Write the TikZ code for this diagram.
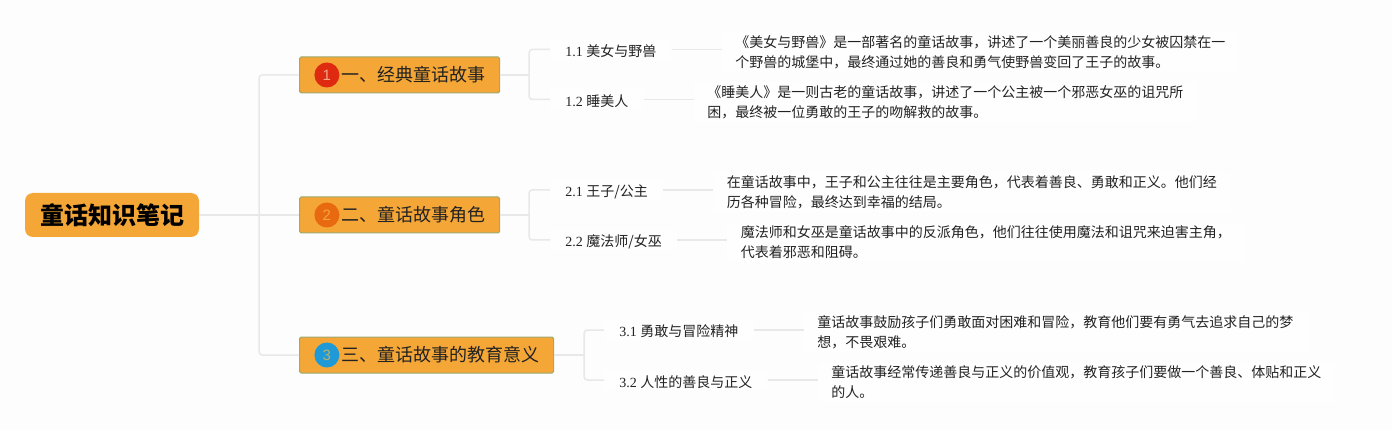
\documentclass[tikz,border=0pt]{standalone}
\usepackage{fontspec}
\setmainfont{Liberation Serif}
\newfontfamily\cjk{Noto Sans CJK SC}
\newfontfamily\digitfont{Liberation Sans}
\usepackage{xcolor}
\usetikzlibrary{positioning}
\definecolor{pagebg}{HTML}{FDFDFD}
\definecolor{paperwhite}{HTML}{FEFEFE}
\definecolor{boxfill}{HTML}{F4A637}
\definecolor{boxline}{HTML}{9DAA70}
\definecolor{linkgray}{HTML}{E8E8E8}
\definecolor{inkblack}{HTML}{222222}
\definecolor{badgeone}{HTML}{DD2A10}
\definecolor{digitone}{HTML}{F2A58A}
\definecolor{badgetwo}{HTML}{E8690F}
\definecolor{digittwo}{HTML}{F4A637}
\definecolor{badgethree}{HTML}{1F9AD6}
\definecolor{digitthree}{HTML}{B8B070}

\begin{document}
\begin{tikzpicture}[
                  x=1pt, y=1pt,
                  root/.style={fill=boxfill, rounded corners=8pt, minimum width=174pt, minimum height=44pt,
                              font=\fontsize{24}{28}\selectfont\cjk\bfseries, inner sep=0pt},
                  section/.style={draw=boxline, line width=1pt, fill=boxfill, rounded corners=1.5pt,
                              minimum height=36pt, inner ysep=0pt, inner xsep=14pt, text=inkblack,
                              font=\fontsize{18}{22}\selectfont\cjk},
                  badge/.style={circle, minimum size=25pt, inner sep=0pt,
                              font=\fontsize{15}{18}\selectfont\digitfont},
                  topic/.style={fill=paperwhite, inner xsep=15pt, inner ysep=3pt, text=inkblack,
                              text height=14pt, text depth=0pt,
                              font=\fontsize{14}{20}\selectfont},
                  note/.style={fill=paperwhite, inner xsep=13.5pt, inner ysep=3pt, align=left, text=inkblack,
                              font=\fontsize{14}{20}\selectfont\cjk},
                  link/.style={draw=linkgray, line width=1.5pt, rounded corners=3pt},
            ]
            \path[fill=pagebg, use as bounding box] (0,0) rectangle (1392,-430);

            \node[root] (root) at (112,-215) {童话知识笔记};
            \coordinate[right=60pt of root] (trunk);

            \node[section, right=100pt of root, yshift=140pt] (sec1) {\hspace*{28pt}一、经典童话故事};
            \node[section, right=100pt of root] (sec2) {\hspace*{28pt}二、童话故事角色};
            \node[section, right=100pt of root, yshift=-140pt] (sec3) {\hspace*{28pt}三、童话故事的教育意义};

            \node[badge, fill=badgeone, text=digitone, right=15pt of sec1.west] (badge1) {1};
            \node[badge, fill=badgetwo, text=digittwo, right=15pt of sec2.west] (badge2) {2};
            \node[badge, fill=badgethree, text=digitthree, right=15pt of sec3.west] (badge3) {3};

            \coordinate[right=29pt of sec1] (fork1);
            \coordinate[right=29pt of sec2] (fork2);
            \coordinate[right=30pt of sec3] (fork3);

            \node[topic, right=50pt of sec1, yshift=25.5pt] (topic11) {1.1 {\cjk 美女与野兽}};
            \node[topic, right=50pt of sec1, yshift=-24.5pt] (topic12) {1.2 {\cjk 睡美人}};
            \node[topic, right=50pt of sec2, yshift=25pt] (topic21) {2.1 {\cjk 王子/公主}};
            \node[topic, right=50pt of sec2, yshift=-25pt] (topic22) {2.2 {\cjk 魔法师/女巫}};
            \node[topic, right=50pt of sec3, yshift=25pt] (topic31) {3.1 {\cjk 勇敢与冒险精神}};
            \node[topic, right=50pt of sec3, yshift=-25pt] (topic32) {3.2 {\cjk 人性的善良与正义}};

            \node[note, right=50pt of topic11, yshift=-2.5pt] (note11) {《美女与野兽》是一部著名的童话故事，讲述了一个美丽善良的少女被囚禁在一\\个野兽的城堡中，最终通过她的善良和勇气使野兽变回了王子的故事。};
            \node[note, right=50pt of topic12, yshift=-2.5pt] (note12) {《睡美人》是一则古老的童话故事，讲述了一个公主被一个邪恶女巫的诅咒所\\困，最终被一位勇敢的王子的吻解救的故事。};
            \node[note, right=50pt of topic21, yshift=-2.5pt] (note21) {在童话故事中，王子和公主往往是主要角色，代表着善良、勇敢和正义。他们经\\历各种冒险，最终达到幸福的结局。};
            \node[note, right=50pt of topic22, yshift=-2.5pt] (note22) {魔法师和女巫是童话故事中的反派角色，他们往往使用魔法和诅咒来迫害主角，\\代表着邪恶和阻碍。};
            \node[note, right=50pt of topic31, yshift=-2.5pt] (note31) {童话故事鼓励孩子们勇敢面对困难和冒险，教育他们要有勇气去追求自己的梦\\想，不畏艰难。};
            \node[note, right=50pt of topic32, yshift=-2.5pt] (note32) {童话故事经常传递善良与正义的价值观，教育孩子们要做一个善良、体贴和正义\\的人。};

            \draw[link] (root) -- (trunk);
            \draw[link] (sec1) -| (trunk) |- (sec3);
            \draw[link] (trunk) -- (sec2);

            \draw[link] (sec1) -- (fork1);
            \draw[link] (topic11) -| (fork1) |- (topic12);
            \draw[link] (sec2) -- (fork2);
            \draw[link] (topic21) -| (fork2) |- (topic22);
            \draw[link] (sec3) -- (fork3);
            \draw[link] (topic31) -| (fork3) |- (topic32);

            \draw[link] (topic11) -- (topic11 -| note11.west);
            \draw[link] (topic12) -- (topic12 -| note12.west);
            \draw[link] (topic21) -- (topic21 -| note21.west);
            \draw[link] (topic22) -- (topic22 -| note22.west);
            \draw[link] (topic31) -- (topic31 -| note31.west);
            \draw[link] (topic32) -- (topic32 -| note32.west);
      \end{tikzpicture}
\end{document}
